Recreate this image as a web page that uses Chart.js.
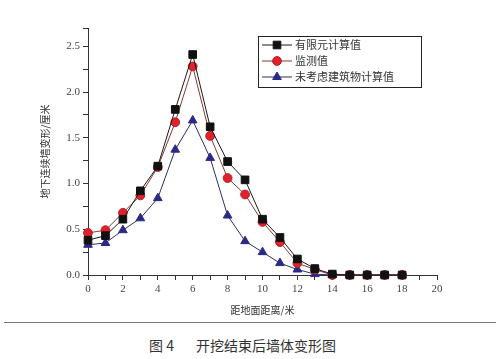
<!DOCTYPE html>
<html>
<head>
<meta charset="utf-8">
<script src="https://cdn.jsdelivr.net/npm/chart.js@4"></script>
<style>
    body { margin: 0; background: #fff; }
    #wrap { position: relative; width: 500px; height: 359px; overflow: hidden; }
    #grafico { position: absolute; left: 0; top: 0; }
    #linha { position: absolute; left: 4px; top: 322px; width: 492px; height: 0; border-top: 1px solid #777; }
    #legenda-fig { position: absolute; left: 149px; top: 335px; font-family: "Noto Sans CJK SC", serif; font-size: 14px; color: #333; white-space: nowrap; }
    #legenda-fig span { margin-left: 22px; }
</style>
</head>
<body>
<div id="wrap">
    <canvas id="grafico" width="500" height="320"></canvas>
    <div id="linha"></div>
    <div id="legenda-fig">图 4<span>开挖结束后墙体变形图</span></div>
</div>
<script>
// distancia (m)
const DISTANCIAS = [0, 1, 2, 3, 4, 5, 6, 7, 8, 9, 10, 11, 12, 13, 14, 15, 16, 17, 18];

const FEM = [0.38, 0.43, 0.61, 0.92, 1.19, 1.81, 2.41, 1.62, 1.24, 1.04, 0.61, 0.41, 0.175, 0.07, 0.01, 0, 0, 0, 0];
const MONITORADO = [0.46, 0.49, 0.68, 0.87, 1.18, 1.67, 2.28, 1.52, 1.06, 0.88, 0.58, 0.36, 0.13, 0.06, 0, 0, 0, 0, 0];
const SEM_PREDIO = [0.33, 0.35, 0.49, 0.62, 0.84, 1.37, 1.69, 1.28, 0.65, 0.37, 0.25, 0.13, 0.06, 0.01, 0, 0, 0, 0, 0];

const NOMES = ['有限元计算值', '监测值', '未考虑建筑物计算值'];

const FONTE_NUM = '"Liberation Serif", "DejaVu Serif", serif';
const FONTE_CJK = '"Noto Sans CJK SC", sans-serif';

function pontos(valores) {
    return DISTANCIAS.map((d, i) => ({ x: d, y: valores[i] }));
}

// legenda com moldura desenhada dentro do grafico
const legendaBox = {
    id: 'legendaBox',
    afterDraw(chart) {
        const ctx = chart.ctx;
        ctx.save();
        ctx.fillStyle = '#fff';
        ctx.strokeStyle = '#222';
        ctx.lineWidth = 1;
        ctx.fillRect(258.5, 36.5, 163, 51);
        ctx.strokeRect(258.5, 36.5, 163, 51);
        const ys = [45, 61, 77];
        chart.data.datasets.forEach((ds, i) => {
            ctx.strokeStyle = ds.borderColor;
            ctx.lineWidth = 1;
            ctx.beginPath();
            ctx.moveTo(262, ys[i]);
            ctx.lineTo(292, ys[i]);
            ctx.stroke();
            ctx.fillStyle = ds.pointBackgroundColor;
            ctx.strokeStyle = ds.pointBorderColor;
            Chart.helpers.drawPoint(ctx, { pointStyle: ds.pointStyle, radius: ds.pointRadius, borderWidth: 1 }, 277, ys[i]);
            ctx.fillStyle = '#333';
            ctx.font = '11px ' + FONTE_CJK;
            ctx.textBaseline = 'middle';
            ctx.fillText(NOMES[i], 295, ys[i]);
        });
        ctx.restore();
    }
};

new Chart(document.getElementById('grafico'), {
    type: 'line',
    data: {
        datasets: [
            {
                label: NOMES[0],
                data: pontos(FEM),
                borderColor: '#1a1a1a',
                borderWidth: 1,
                pointStyle: 'rect',
                pointRadius: 5.4,
                pointBackgroundColor: '#111',
                pointBorderColor: '#111',
                tension: 0,
                clip: false
            },
            {
                label: NOMES[1],
                data: pontos(MONITORADO),
                borderColor: '#8a3a2c',
                borderWidth: 1,
                pointStyle: 'circle',
                pointRadius: 4.4,
                pointBackgroundColor: '#e3202a',
                pointBorderColor: '#b0202a',
                tension: 0,
                clip: false
            },
            {
                label: NOMES[2],
                data: pontos(SEM_PREDIO),
                borderColor: '#2e2e6a',
                borderWidth: 1,
                pointStyle: 'triangle',
                pointRadius: 5,
                pointBackgroundColor: '#2a2a86',
                pointBorderColor: '#2a2a86',
                tension: 0,
                clip: false
            }
        ]
    },
    options: {
        responsive: false,
        animation: false,
        layout: { padding: { top: 28, right: 63, left: 39, bottom: 0 } },
        plugins: {
            legend: { display: false },
            tooltip: { enabled: false }
        },
        scales: {
            x: {
                type: 'linear',
                min: 0,
                max: 20,
                afterFit: s => { s.height = 45; },
                grid: { drawOnChartArea: false, tickLength: 5, color: '#333' },
                border: { color: '#333', width: 1 },
                ticks: {
                    stepSize: 1,
                    autoSkip: false,
                    maxRotation: 0,
                    padding: 3,
                    color: '#444',
                    font: { family: FONTE_NUM, size: 11 },
                    callback: v => (v % 2 === 0 ? v : '')
                },
                title: {
                    display: true,
                    text: '距地面距离/米',
                    color: '#333',
                    font: { family: FONTE_CJK, size: 10 },
                    padding: { top: 0, bottom: 4 }
                }
            },
            y: {
                min: 0,
                max: 2.7,
                afterFit: s => { s.width = 49; },
                grid: { drawOnChartArea: false, tickLength: 5, color: '#333' },
                border: { color: '#333', width: 1 },
                ticks: {
                    stepSize: 0.25,
                    autoSkip: false,
                    padding: 3,
                    color: '#444',
                    font: { family: FONTE_NUM, size: 11 },
                    callback: v => (Math.abs(v * 2 - Math.round(v * 2)) < 1e-6 ? v.toFixed(1) : '')
                },
                title: {
                    display: true,
                    text: '地下连续墙变形/厘米',
                    color: '#333',
                    font: { family: FONTE_CJK, size: 10 },
                    padding: { top: 0, bottom: 0 }
                }
            }
        }
    },
    plugins: [legendaBox]
});
</script>
</body>
</html>
